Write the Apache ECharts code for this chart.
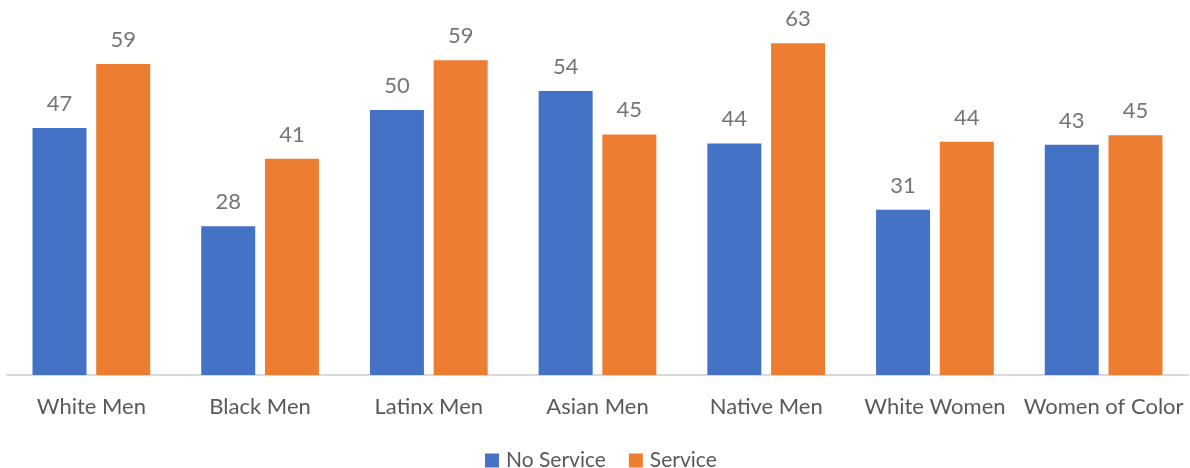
<!DOCTYPE html>
<html><head><meta charset="utf-8">
<script src="https://cdn.jsdelivr.net/npm/echarts@6/dist/echarts.min.js"></script>
<style>html,body{margin:0;padding:0;background:#fff}#c{width:1190px;height:468px}</style>
</head><body><div id="c"></div>
<script>
const categories = ["White Men","Black Men","Latinx Men","Asian Men","Native Men","White Women","Women of Color"];
const noService = [46.6,28.05,50.0,53.6,43.7,31.2,43.45];
const service = [58.7,40.8,59.4,45.4,62.6,44.0,45.25];
const seriesNames = ["No Service","Service"];

const chart = echarts.init(document.getElementById('c'));
const font = "Lato, 'Open Sans', sans-serif";
const lbl = {show:true,position:'top',distance:13,color:'#757575',fontSize:22,fontFamily:font,
  formatter:p=>Math.round(p.value)};
chart.setOption({
  animation:false,
  grid:{left:7,right:2,top:4,bottom:93},
  legend:{top:450,left:485,padding:0,itemWidth:14,itemHeight:14,itemGap:23,icon:'rect',
    textStyle:{color:'#595959',fontSize:21,fontFamily:font,padding:[0,0,0,2]},data:seriesNames},
  xAxis:{type:'category',data:categories,
    axisLine:{lineStyle:{color:'#d9d9d9',width:2}},axisTick:{show:false},
    axisLabel:{color:'#595959',fontSize:22,fontFamily:font,margin:21,interval:0}},
  yAxis:{type:'value',min:0,max:70,show:false,splitLine:{show:false}},
  series:[
    {name:seriesNames[0],type:'bar',data:noService,barWidth:54,barGap:'18%',
     itemStyle:{color:'#4472c4'},label:lbl},
    {name:seriesNames[1],type:'bar',data:service,barWidth:54,
     itemStyle:{color:'#ed7d31'},label:lbl}
  ]
});
</script></body></html>
